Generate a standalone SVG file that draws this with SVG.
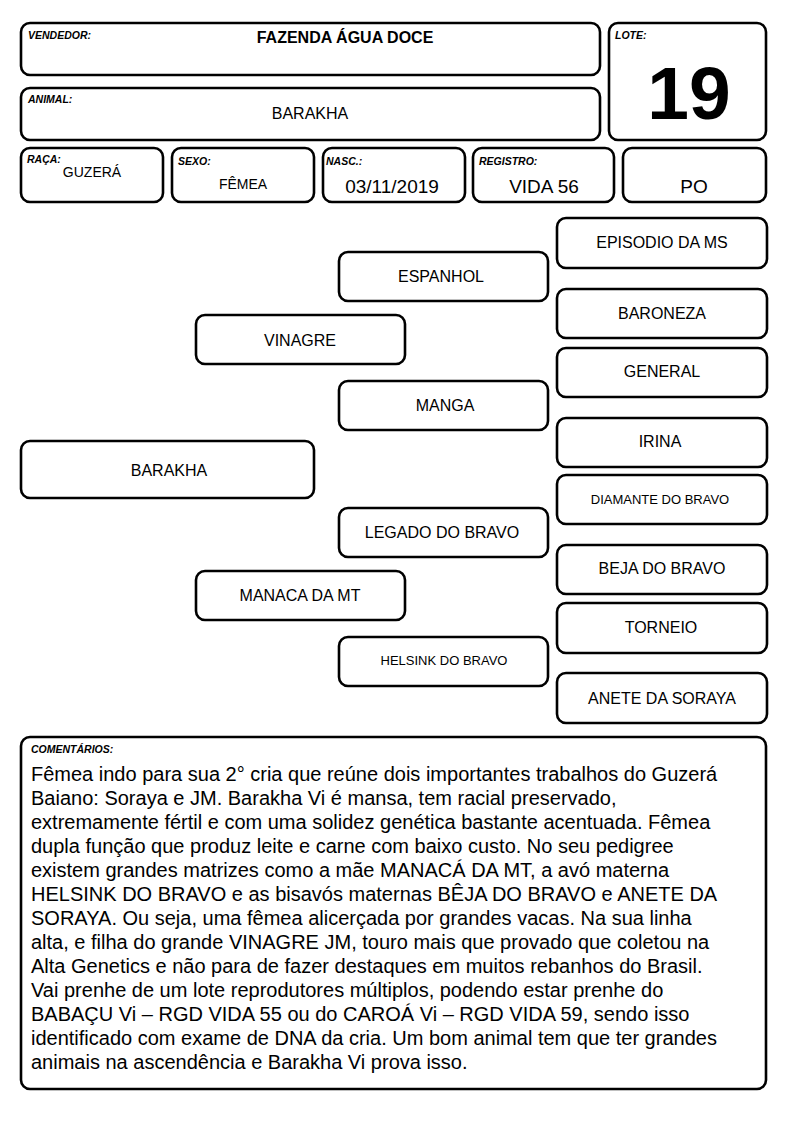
<svg xmlns="http://www.w3.org/2000/svg" width="794" height="1123" viewBox="0 0 794 1123">
<style>
.box{fill:#fff;stroke:#000;stroke-width:2.6}
.lbl{font-family:"Liberation Sans",Arial,sans-serif;font-size:10.5px;font-weight:bold;font-style:italic;fill:#000}
.t16{font-family:"Liberation Sans",Arial,sans-serif;font-size:16px;fill:#000;text-anchor:middle}
.t14{font-family:"Liberation Sans",Arial,sans-serif;font-size:14px;fill:#000;text-anchor:middle}
.t13{font-family:"Liberation Sans",Arial,sans-serif;font-size:13px;fill:#000;text-anchor:middle}
.t19{font-family:"Liberation Sans",Arial,sans-serif;font-size:19px;fill:#000;text-anchor:middle}
.body{font-family:"Liberation Sans",Arial,sans-serif;font-size:20px;fill:#000}
</style>
<rect width="794" height="1123" fill="#fff"/>
<g id="vendedor">
<rect class="box" x="21" y="23" width="579" height="52" rx="9"/>
<text class="lbl" x="28" y="39">VENDEDOR:</text>
<text class="t16" x="345" y="43" font-weight="bold">FAZENDA ÁGUA DOCE</text>
</g>
<g id="animal">
<rect class="box" x="21" y="88" width="579" height="52" rx="9"/>
<text class="lbl" x="28" y="103">ANIMAL:</text>
<text class="t16" x="310" y="119">BARAKHA</text>
</g>
<g id="lote">
<rect class="box" x="609" y="23" width="157" height="117" rx="9"/>
<text class="lbl" x="615" y="39">LOTE:</text>
<text x="689" y="119" font-family="'Liberation Sans',Arial,sans-serif" font-size="75" font-weight="bold" text-anchor="middle" fill="#000">19</text>
</g>
<g id="raca">
<rect class="box" x="21" y="148" width="142" height="54" rx="9"/>
<text class="lbl" x="27" y="163">RAÇA:</text>
<text class="t14" x="92" y="177">GUZERÁ</text>
</g>
<g id="sexo">
<rect class="box" x="172" y="148" width="142" height="54" rx="9"/>
<text class="lbl" x="178" y="165">SEXO:</text>
<text class="t14" x="243" y="189">FÊMEA</text>
</g>
<g id="nasc">
<rect class="box" x="323" y="148" width="142" height="54" rx="9"/>
<text class="lbl" x="326" y="165">NASC.:</text>
<text class="t19" x="392" y="193">03/11/2019</text>
</g>
<g id="registro">
<rect class="box" x="473" y="148" width="141" height="54" rx="9"/>
<text class="lbl" x="479" y="165">REGISTRO:</text>
<text class="t19" x="544" y="193">VIDA 56</text>
</g>
<g id="po">
<rect class="box" x="623" y="148" width="143" height="54" rx="9"/>
<text class="t19" x="694" y="193">PO</text>
</g>
<g id="connectors"></g>
<g id="n-barakha">
<rect class="box" x="21" y="441" width="293" height="57" rx="9"/>
<text class="t16" x="169" y="476">BARAKHA</text>
</g>
<g id="n-vinagre">
<rect class="box" x="196" y="315" width="209" height="49" rx="9"/>
<text class="t16" x="300" y="346">VINAGRE</text>
</g>
<g id="n-manaca">
<rect class="box" x="196" y="571" width="209" height="49" rx="9"/>
<text class="t16" x="300" y="601">MANACA DA MT</text>
</g>
<g id="n-espanhol">
<rect class="box" x="339" y="252" width="209" height="49" rx="9"/>
<text class="t16" x="441" y="282">ESPANHOL</text>
</g>
<g id="n-manga">
<rect class="box" x="339" y="381" width="209" height="49" rx="9"/>
<text class="t16" x="445" y="411">MANGA</text>
</g>
<g id="n-legado">
<rect class="box" x="339" y="508" width="209" height="49" rx="9"/>
<text class="t16" x="442" y="538">LEGADO DO BRAVO</text>
</g>
<g id="n-helsink">
<rect class="box" x="339" y="637" width="209" height="49" rx="9"/>
<text class="t13" x="444" y="665">HELSINK DO BRAVO</text>
</g>
<g id="n-episodio">
<rect class="box" x="557" y="218" width="210" height="50" rx="9"/>
<text class="t16" x="662" y="248">EPISODIO DA MS</text>
</g>
<g id="n-baroneza">
<rect class="box" x="557" y="289" width="210" height="49" rx="9"/>
<text class="t16" x="662" y="319">BARONEZA</text>
</g>
<g id="n-general">
<rect class="box" x="557" y="348" width="210" height="49" rx="9"/>
<text class="t16" x="662" y="377">GENERAL</text>
</g>
<g id="n-irina">
<rect class="box" x="557" y="418" width="210" height="49" rx="9"/>
<text class="t16" x="660" y="447">IRINA</text>
</g>
<g id="n-diamante">
<rect class="box" x="557" y="475" width="210" height="49" rx="9"/>
<text class="t13" x="660" y="504">DIAMANTE DO BRAVO</text>
</g>
<g id="n-beja">
<rect class="box" x="557" y="545" width="210" height="49" rx="9"/>
<text class="t16" x="662" y="574">BEJA DO BRAVO</text>
</g>
<g id="n-torneio">
<rect class="box" x="557" y="603" width="210" height="50" rx="9"/>
<text class="t16" x="661" y="633">TORNEIO</text>
</g>
<g id="n-anete">
<rect class="box" x="557" y="673" width="210" height="50" rx="9"/>
<text class="t16" x="662" y="704">ANETE DA SORAYA</text>
</g>
<g id="comentarios">
<rect class="box" x="21" y="737" width="745" height="352" rx="9"/>
<text class="lbl" x="31" y="753">COMENTÁRIOS:</text>
<text class="body" x="31" y="781">Fêmea indo para sua 2° cria que reúne dois importantes trabalhos do Guzerá</text>
<text class="body" x="31" y="805">Baiano: Soraya e JM. Barakha Vi é mansa, tem racial preservado,</text>
<text class="body" x="31" y="829">extremamente fértil e com uma solidez genética bastante acentuada. Fêmea</text>
<text class="body" x="31" y="853">dupla função que produz leite e carne com baixo custo. No seu pedigree</text>
<text class="body" x="31" y="877">existem grandes matrizes como a mãe MANACÁ DA MT, a avó materna</text>
<text class="body" x="31" y="901">HELSINK DO BRAVO e as bisavós maternas BÊJA DO BRAVO e ANETE DA</text>
<text class="body" x="31" y="925">SORAYA. Ou seja, uma fêmea alicerçada por grandes vacas. Na sua linha</text>
<text class="body" x="31" y="949">alta, e filha do grande VINAGRE JM, touro mais que provado que coletou na</text>
<text class="body" x="31" y="973">Alta Genetics e não para de fazer destaques em muitos rebanhos do Brasil.</text>
<text class="body" x="31" y="997">Vai prenhe de um lote reprodutores múltiplos, podendo estar prenhe do</text>
<text class="body" x="31" y="1021">BABAÇU Vi – RGD VIDA 55 ou do CAROÁ Vi – RGD VIDA 59, sendo isso</text>
<text class="body" x="31" y="1045">identificado com exame de DNA da cria. Um bom animal tem que ter grandes</text>
<text class="body" x="31" y="1069">animais na ascendência e Barakha Vi prova isso.</text>
</g>
</svg>
